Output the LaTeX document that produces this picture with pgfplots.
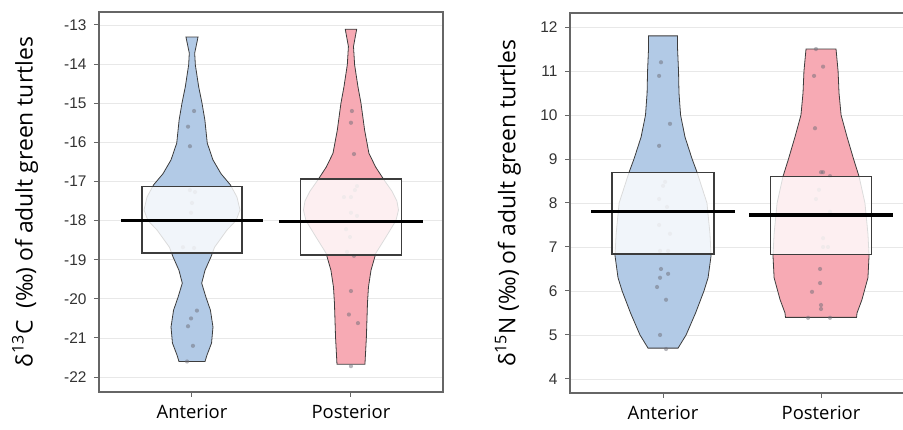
\documentclass[border=0pt]{standalone}
\usepackage{fontspec}
\setmainfont{Open Sans}
\newfontfamily\ticksfont{Liberation Sans}
\usepackage{pgfplots}
\pgfplotsset{compat=1.18}

\definecolor{vblue}{HTML}{B2CAE6}
\definecolor{vpink}{HTML}{F7AAB4}
\definecolor{frame}{HTML}{666666}
\definecolor{outl}{HTML}{3C3C3C}
\definecolor{dots}{HTML}{6E6E78}

\pgfplotsset{
  pirate/.style={
    scale only axis, height=380bp,
    axis line style={frame, line width=1.1bp},
    tick align=outside, tick pos=left,
    major tick length=5bp,
    tick style={frame, line width=1bp},
    ymajorgrids, grid style={black!9, line width=0.8bp},
    xtick={1,2}, xticklabels={Anterior,Posterior},
    xticklabel style={font=\fontsize{18.5}{21}\selectfont, black, yshift=-4bp},
    yticklabel style={font=\fontsize{15.5}{17}\selectfont\ticksfont, black!80, xshift=-4bp},
    /pgf/number format/assume math mode=true,
    ylabel style={font=\fontsize{23}{25}\selectfont, anchor=center},
    clip marker paths=true,
  },
  violin/.style={draw=outl, line width=0.8bp},
  pts/.style={only marks, mark=*, mark size=2.1bp, dots, mark options={draw opacity=0, fill opacity=0.5}},
  hdi/.style={draw=outl, line width=1.2bp, fill=white, fill opacity=0.82},
  meanline/.style={black, line width=3.4bp},
}

\begin{document}
\begin{tikzpicture}
\path[use as bounding box] (0,0) rectangle (903bp,430bp);

% ---------- delta 13C ----------
\begin{axis}[pirate, at={(99bp,38bp)}, anchor=south west, width=344bp,
  xmin=0.415, xmax=2.579, ymin=-22.38, ymax=-12.67,
  ytick={-22,-21,...,-13},
  ylabel={δ\textsuperscript{13}C\ \ (‰) of adult green turtles},
  ylabel style={at={(axis description cs:-0.215,0.5)}},
]
% Anterior violin
\addplot[violin, fill=vblue] coordinates {
 (1.038,-13.31)(1.017,-13.72)(1.021,-14.02)(1.042,-14.58)(1.063,-15.0)(1.081,-15.43)
 (1.096,-16.02)(1.132,-16.45)(1.182,-16.8)(1.242,-17.09)(1.283,-17.4)(1.302,-17.73)
 (1.277,-18.0)(1.220,-18.24)(1.142,-18.68)(1.119,-18.93)(1.082,-19.27)(1.061,-19.6)
 (1.088,-19.96)(1.116,-20.29)(1.132,-20.72)(1.123,-21.13)(1.094,-21.44)(1.082,-21.6)
 (0.918,-21.6)(0.906,-21.44)(0.877,-21.13)(0.868,-20.72)(0.884,-20.29)(0.912,-19.96)
 (0.939,-19.6)(0.918,-19.27)(0.881,-18.93)(0.858,-18.68)(0.780,-18.24)(0.723,-18.0)
 (0.698,-17.73)(0.717,-17.4)(0.758,-17.09)(0.818,-16.8)(0.868,-16.45)(0.904,-16.02)
 (0.919,-15.43)(0.937,-15.0)(0.958,-14.58)(0.979,-14.02)(0.983,-13.72)(0.962,-13.31)
} -- cycle;
% Posterior violin
\addplot[violin, fill=vpink] coordinates {
 (2.036,-13.11)(2.016,-13.55)(2.023,-14.02)(2.044,-14.58)(2.063,-15.0)(2.086,-15.69)
 (2.113,-16.28)(2.155,-16.63)(2.208,-16.96)(2.258,-17.25)(2.289,-17.5)(2.299,-17.73)
 (2.283,-18.0)(2.220,-18.42)(2.157,-18.83)(2.126,-19.27)(2.110,-19.7)(2.104,-20.1)
 (2.097,-20.98)(2.088,-21.67)
 (1.912,-21.67)(1.903,-20.98)(1.896,-20.1)(1.890,-19.7)(1.874,-19.27)(1.843,-18.83)
 (1.780,-18.42)(1.717,-18.0)(1.701,-17.73)(1.711,-17.5)(1.742,-17.25)(1.792,-16.96)
 (1.845,-16.63)(1.887,-16.28)(1.914,-15.69)(1.937,-15.0)(1.956,-14.58)(1.977,-14.02)
 (1.984,-13.55)(1.964,-13.11)
} -- cycle;
% raw points
\addplot[pts] coordinates {
 (1.013,-15.2)(0.975,-15.6)(0.987,-16.1)(0.987,-17.22)(1.019,-17.27)(1.0,-17.55)
 (0.994,-17.8)(0.943,-18.68)(1.013,-18.7)(1.031,-20.3)(0.994,-20.5)(0.975,-20.7)
 (1.006,-21.2)(0.969,-21.6)
};
\addplot[pts] coordinates {
 (2.006,-15.2)(2.0,-15.5)(2.019,-16.3)(2.038,-17.12)(2.025,-17.22)(1.956,-17.4)
 (2.0,-17.4)(2.0,-17.8)(2.038,-17.88)(1.969,-18.22)(1.994,-18.42)(1.975,-18.8)
 (2.019,-18.9)(2.0,-19.8)(1.987,-20.4)(2.044,-20.62)(2.0,-21.72)
};
% inference bands
\addplot[hdi] coordinates {(0.686,-18.83)(1.314,-18.83)(1.314,-17.12)(0.686,-17.12)} -- cycle;
\addplot[hdi] coordinates {(1.682,-18.88)(2.318,-18.88)(2.318,-16.94)(1.682,-16.94)} -- cycle;
% means
\addplot[meanline] coordinates {(0.553,-18.0)(1.447,-18.0)};
\addplot[meanline] coordinates {(1.547,-18.03)(2.453,-18.03)};
\end{axis}

% ---------- delta 15N ----------
\begin{axis}[pirate, at={(570bp,37bp)}, anchor=south west, width=336bp,
  xmin=0.411, xmax=2.538, ymin=3.68, ymax=12.32,
  ytick={4,5,...,12},
  ylabel={δ\textsuperscript{15}N (‰) of adult green turtles},
  ylabel style={at={(axis description cs:-0.185,0.5)}},
]
\addplot[violin, fill=vblue] coordinates {
 (1.092,11.8)(1.092,11.5)(1.098,11.0)(1.101,10.5)(1.111,10.0)(1.139,9.5)(1.184,9.0)
 (1.215,8.7)(1.278,8.0)(1.297,7.3)(1.304,6.8)(1.285,6.3)(1.259,6.0)(1.206,5.5)
 (1.146,5.0)(1.095,4.7)
 (0.905,4.7)(0.854,5.0)(0.794,5.5)(0.741,6.0)(0.715,6.3)(0.696,6.8)(0.703,7.3)
 (0.722,8.0)(0.785,8.7)(0.816,9.0)(0.861,9.5)(0.889,10.0)(0.899,10.5)(0.902,11.0)
 (0.908,11.5)(0.908,11.8)
} -- cycle;
\addplot[violin, fill=vpink] coordinates {
 (2.095,11.5)(2.108,11.0)(2.114,10.5)(2.127,10.0)(2.165,9.5)(2.206,9.0)(2.241,8.6)
 (2.278,8.0)(2.297,7.3)(2.304,6.8)(2.297,6.3)(2.259,5.8)(2.228,5.5)(2.225,5.4)
 (1.775,5.4)(1.772,5.5)(1.741,5.8)(1.703,6.3)(1.696,6.8)(1.703,7.3)(1.722,8.0)
 (1.759,8.6)(1.794,9.0)(1.835,9.5)(1.873,10.0)(1.886,10.5)(1.892,11.0)(1.905,11.5)
} -- cycle;
\addplot[pts] coordinates {
 (0.987,11.2)(0.975,10.89)(1.044,9.8)(0.975,9.3)(1.013,8.48)(1.0,8.39)(0.975,8.09)
 (1.025,7.91)(0.975,7.5)(1.044,7.3)(0.981,6.91)(1.032,6.91)(0.987,6.5)(1.032,6.39)
 (0.981,6.3)(0.962,6.09)(1.019,5.8)(0.981,5.0)(1.019,4.68)
};
\addplot[pts] coordinates {
 (1.968,11.5)(2.013,11.1)(1.956,10.89)(1.962,9.7)(2.0,8.7)(2.013,8.7)(2.057,8.61)
 (1.987,8.3)(1.968,8.09)(2.057,7.8)(2.013,7.2)(2.013,7.0)(2.044,7.0)(1.994,6.5)
 (1.994,6.18)(1.943,5.98)(2.0,5.68)(2.0,5.59)(1.918,5.39)(2.057,5.39)
};
\addplot[hdi] coordinates {(0.677,6.84)(1.323,6.84)(1.323,8.7)(0.677,8.7)} -- cycle;
\addplot[hdi] coordinates {(1.680,6.82)(2.320,6.82)(2.320,8.6)(1.680,8.6)} -- cycle;
\addplot[meanline] coordinates {(0.547,7.8)(1.453,7.8)};
\addplot[meanline] coordinates {(1.547,7.73)(2.453,7.73)};
\end{axis}
\end{tikzpicture}
\end{document}
